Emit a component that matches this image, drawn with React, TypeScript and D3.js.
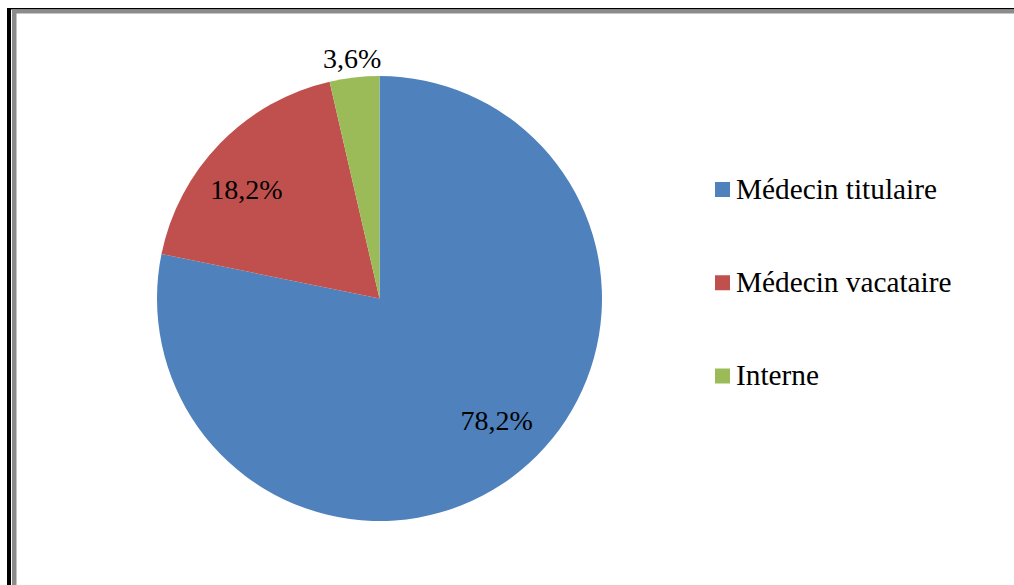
import React from "react";
import * as d3 from "d3";

const categories = ["Médecin titulaire", "Médecin vacataire", "Interne"];
const values = [78.2, 18.2, 3.6];
const valueLabels = ["78,2%", "18,2%", "3,6%"];
const colors = ["#4F81BD", "#C0504D", "#9BBB59"];

const W = 1014;
const H = 585;
const cx = 379.5;
const cy = 298.5;
const R = 222.5;

export default function App() {
  const pie = d3.pie<number>().sort(null).value((d) => d);
  const arcs = pie(values);
  const arcGen = d3.arc<d3.PieArcDatum<number>>().innerRadius(0).outerRadius(R);
  const labelRadii = [169, 172, 242];
  const labelShift = [-4.7, -5, 0];
  const font = "Liberation Serif";
  const legendY = d3.scalePoint<string>().domain(categories).range([189.5, 376]);

  return (
    <svg
      width={W}
      height={H}
      style={{ position: "absolute", left: 0, top: 0, background: "#fff" }}
    >
      <rect x={0} y={0} width={W} height={H} fill="#fff" />
      <rect x={7} y={8} width={4} height={H} fill="#000" />
      <rect x={7} y={8} width={W} height={1.5} fill="#000" />
      <rect x={12} y={9.5} width={4.5} height={H} fill="#8c8c8c" />
      <rect x={12} y={9.5} width={W} height={4} fill="#8c8c8c" />
      <g transform={`translate(${cx},${cy})`}>
        {arcs.map((a, i) => (
          <path key={i} d={arcGen(a) || ""} fill={colors[i]} />
        ))}
        {arcs.map((a, i) => {
          const ang = (a.startAngle + a.endAngle) / 2 + (labelShift[i] * Math.PI) / 180;
          const lr = labelRadii[i];
          const x = Math.sin(ang) * lr;
          const y = -Math.cos(ang) * lr;
          return (
            <text
              key={i}
              x={x}
              y={y}
              textAnchor="middle"
              dominantBaseline="central"
              fontFamily={font}
              fontSize={28}
              fill="#000"
            >
              {valueLabels[i]}
            </text>
          );
        })}
      </g>
      {categories.map((c, i) => {
        const y = legendY(c) as number;
        return (
          <g key={c}>
            <rect x={715} y={y - 7.5} width={15} height={15} fill={colors[i]} />
            <text x={736} y={y + 9} fontFamily={font} fontSize={29.3} fill="#000">
              {c}
            </text>
          </g>
        );
      })}
    </svg>
  );
}
